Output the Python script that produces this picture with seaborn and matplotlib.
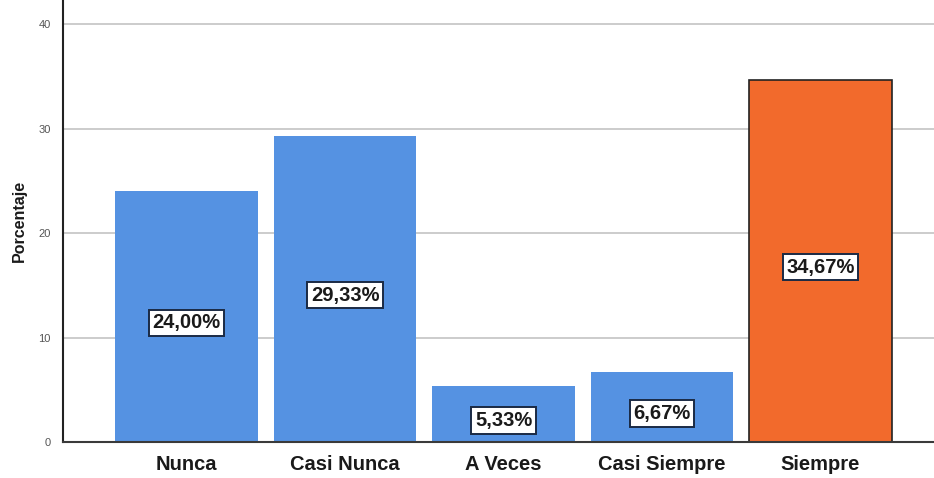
import matplotlib
matplotlib.use("Agg")
import matplotlib.pyplot as plt
import seaborn as sns
import pandas as pd

categorias = ["Nunca", "Casi Nunca", "A Veces", "Casi Siempre", "Siempre"]
porcentajes = [24.00, 29.33, 5.33, 6.67, 34.67]
etiquetas = ["24,00%", "29,33%", "5,33%", "6,67%", "34,67%"]
yticks = [0, 10, 20, 30, 40]

AZUL = "#5592E2"
NARANJA = "#F26A2C"
colores = [AZUL, AZUL, AZUL, AZUL, NARANJA]

sns.set_style("white")
plt.rcParams["font.family"] = ["Liberation Sans", "DejaVu Sans"]

df = pd.DataFrame({"categoria": categorias, "porcentaje": porcentajes})

fig = plt.figure(figsize=(9.34, 4.78), dpi=100)
ax = fig.add_axes([0.0675, 0.0753, 0.9325, 0.9247])

ax.set_axisbelow(True)
for v in yticks[1:]:
    ax.axhline(v, color="#c8c8c8", lw=1.3, zorder=0)

sns.barplot(data=df, x="categoria", y="porcentaje", hue="categoria",
            palette=colores, order=categorias, hue_order=categorias,
            width=0.9, legend=False, saturation=1, ax=ax, zorder=2)

for patch, cat in zip(ax.patches, categorias):
    if cat == "Siempre":
        patch.set_edgecolor("#222222")
        patch.set_linewidth(1.2)
    else:
        patch.set_linewidth(0)

# value boxes sit a little below the bar midpoint
for i, (v, txt) in enumerate(zip(porcentajes, etiquetas)):
    ax.annotate(txt, xy=(i, v / 2), xytext=(0, -4.5), textcoords="offset points",
                ha="center", va="center", fontsize=14.5,
                fontweight="bold", color="#1a1a1a", zorder=5,
                bbox=dict(boxstyle="square,pad=0.18", fc="white",
                          ec="#1a2a44", lw=1.4))

ax.set_xlim(-0.78, 4.716)
ax.set_ylim(0, 42.3)
ax.set_yticks(yticks)
ax.set_yticklabels([str(t) for t in yticks], fontsize=8, color="#555555")
ax.tick_params(axis="y", length=0, pad=9)
ax.tick_params(axis="x", length=0, pad=9)
for lbl in ax.get_xticklabels():
    lbl.set_fontsize(14.5)
    lbl.set_fontweight("bold")
    lbl.set_color("#1a1a1a")

ax.set_xlabel("")
ax.set_ylabel("Porcentaje", fontsize=11.5, fontweight="bold",
              color="#1a1a1a", labelpad=8)

for s in ["top", "right"]:
    ax.spines[s].set_visible(False)
ax.spines["left"].set_color("#222222")
ax.spines["left"].set_linewidth(1.5)
ax.spines["bottom"].set_color("#3a3a3a")
ax.spines["bottom"].set_linewidth(1.5)

fig.savefig("out.png", dpi=100)
